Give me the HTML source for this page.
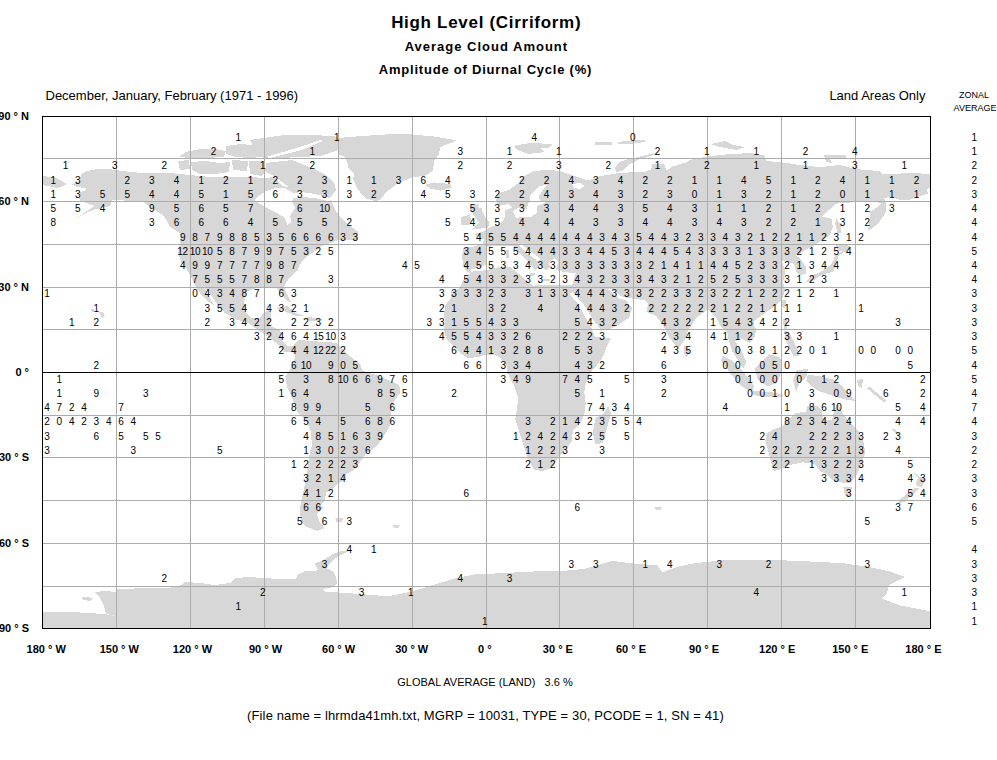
<!DOCTYPE html>
<html><head><meta charset="utf-8"><style>
html,body{margin:0;padding:0;background:#fff;width:997px;height:760px;overflow:hidden}
svg{position:absolute;left:0;top:0}
text{font-family:"Liberation Sans",sans-serif;fill:#000}
.n{font-size:10px;text-anchor:middle;letter-spacing:-0.4px}
.b{font-weight:bold}
</style></head><body>
<svg width="997" height="760" viewBox="0 0 997 760">

<g fill="#d7d7d7" stroke="none" shape-rendering="crispEdges">
<polygon points="393.0,525.5 400.0,525.0 399.0,528.0 394.0,528.0"/>
<polygon points="655.0,507.5 662.0,507.0 661.0,510.0 656.0,510.0"/>
<polygon points="90.0,310.0 93.5,308.5 95.0,311.0 92.0,312.0"/>
<polygon points="99.0,312.0 103.0,312.5 105.0,316.0 102.0,318.5 100.5,315.0"/>
<polygon points="72.0,184.5 75.0,183.0 80.0,181.0 81.0,174.0 87.0,171.0 97.0,169.0 112.0,169.5 122.0,171.0 142.0,173.0 152.0,173.0 170.0,173.0 190.0,175.0 210.0,177.0 230.0,177.0 250.0,177.0 264.0,178.0 275.0,177.0 282.0,186.0 292.0,188.0 300.0,186.0 310.0,189.0 325.0,193.0 330.0,199.0 334.0,207.0 339.0,216.0 347.0,223.8 357.6,231.3 358.0,240.0 340.5,240.4 338.2,240.0 330.2,243.0 322.2,246.0 316.2,250.1 310.2,254.1 303.1,260.1 299.1,266.1 298.1,270.1 293.1,274.1 286.1,282.2 284.1,287.2 285.1,290.2 289.1,298.2 291.1,302.2 286.1,300.2 280.1,291.2 275.0,287.2 264.0,287.7 256.2,288.0 246.0,292.0 244.0,302.1 246.0,312.1 252.0,318.1 260.1,318.1 263.1,313.1 269.1,310.1 271.1,313.1 270.1,326.1 280.1,330.1 282.1,340.2 287.1,346.2 296.2,346.2 300.2,342.2 300.0,350.0 296.2,356.2 292.2,352.2 284.1,352.2 278.1,344.2 270.1,338.2 258.1,330.1 247.9,322.8 236.3,319.5 224.7,312.9 216.4,302.9 208.1,291.3 203.2,286.3 210.0,298.0 214.8,306.2 206.5,300.0 198.2,291.0 193.2,281.4 188.2,271.4 181.6,263.1 178.3,253.2 180.0,243.2 180.0,233.3 170.0,226.6 164.0,216.0 152.3,208.2 142.0,201.1 112.2,200.1 110.2,206.1 92.2,210.2 75.1,218.2 68.1,222.2 82.1,214.2 94.2,206.1 87.1,203.1 80.1,201.1 79.1,198.1 80.1,192.1 86.1,190.1 86.1,188.1 77.1,187.1"/>
<polygon points="178.0,161.0 189.0,160.0 190.0,169.0 180.0,170.0"/>
<polygon points="191.0,162.0 205.0,161.0 220.0,163.0 230.0,162.0 229.0,172.0 215.0,174.0 200.0,174.0 192.0,170.0"/>
<polygon points="232.0,160.0 248.0,161.0 247.0,171.0 233.0,170.0"/>
<polygon points="249.0,161.0 264.0,161.0 266.0,170.0 262.0,176.0 250.0,174.0"/>
<polygon points="179.0,157.0 186.0,152.0 200.0,149.0 215.0,149.0 226.0,151.0 224.0,157.0 205.0,158.0 190.0,158.0"/>
<polygon points="226.0,146.0 240.0,144.0 252.0,145.0 260.0,141.0 262.0,157.0 250.0,158.0 235.0,157.0 226.0,154.0"/>
<polygon points="43.0,176.1 54.0,177.1 62.1,181.1 67.1,184.1 58.0,188.1 48.0,186.1 43.0,185.1"/>
<polygon points="338.0,138.0 365.1,135.8 387.7,134.3 410.3,134.3 434.3,136.5 456.9,140.3 440.4,147.1 438.9,154.6 434.3,160.6 432.8,171.1 425.3,175.6 410.3,177.9 398.2,183.2 386.2,192.2 380.2,199.7 375.7,201.2 365.1,198.2 357.6,189.2 353.1,178.7 354.6,174.1 348.6,168.1 345.6,157.6 341.1,154.6 338.0,156.1"/>
<polygon points="250.0,140.0 264.0,138.0 284.0,135.0 310.0,135.0 334.5,136.0 338.0,138.0 338.0,150.0 320.0,156.0 300.0,157.0 280.0,158.0 264.0,158.0 255.0,150.0"/>
<polygon points="266.0,163.0 292.0,160.0 312.0,168.0 324.0,174.0 334.0,182.0 336.0,190.0 330.0,198.0 318.0,197.0 304.0,196.0 296.0,192.0 290.0,188.0 282.0,182.0 274.0,176.0 266.0,172.0"/>
<polygon points="425.3,184.7 434.3,182.4 449.4,183.9 452.4,187.7 440.4,190.7 429.8,188.4"/>
<polygon points="477.5,203.5 479.2,205.8 477.5,207.0 481.5,208.2 482.1,211.6 485.6,218.6 489.6,222.6 487.9,228.4 482.1,228.4 472.3,229.6 475.2,226.7 479.2,222.6 476.3,219.2 472.8,213.4 469.4,207.0 474.0,204.0"/>
<polygon points="461.3,216.8 469.4,215.1 471.7,220.3 469.4,225.0 460.7,225.0"/>
<polygon points="513.0,146.0 530.0,143.0 553.0,144.0 548.0,148.0 540.0,147.5 545.0,152.0 528.0,154.0 518.0,150.0"/>
<polygon points="595.0,142.0 612.0,142.0 612.0,144.5 595.0,144.7"/>
<polygon points="617.6,142.0 632.0,140.5 645.7,139.8 645.0,142.0 630.0,144.0 617.6,144.0"/>
<polygon points="614.8,167.9 619.0,162.3 627.4,159.5 634.4,158.1 644.3,155.3 658.3,152.5 655.5,154.6 638.7,159.5 630.2,163.7 623.2,170.7 616.2,172.1"/>
<polygon points="710.0,144.0 725.0,141.0 733.0,145.0 745.0,147.0 737.0,150.0 720.0,147.0"/>
<polygon points="824.0,155.0 846.0,155.5 846.0,159.0 830.0,159.0 832.0,163.0 826.0,162.0"/>
<polygon points="465.7,270.7 463.3,265.9 462.1,257.5 463.3,247.9 471.7,246.7 482.6,244.3 483.8,239.4 474.0,234.2 482.1,231.9 486.7,229.6 490.2,227.3 500.0,223.8 504.8,218.0 504.8,210.0 499.0,207.0 496.0,201.0 497.8,193.6 509.0,190.0 518.2,183.0 524.5,176.0 534.3,171.1 548.3,169.7 559.6,171.1 572.2,175.3 588.1,180.6 599.3,176.3 606.3,175.0 616.2,173.5 633.0,172.1 644.3,172.1 651.3,169.3 652.7,163.7 663.9,163.7 666.7,170.7 672.4,166.5 686.4,162.3 690.0,160.1 698.0,158.1 710.0,156.1 730.1,154.1 750.2,153.1 764.2,155.1 766.2,161.1 780.3,162.1 800.3,165.1 820.4,167.1 840.0,165.0 856.0,169.1 880.1,171.1 882.1,174.1 900.2,173.6 906.2,172.6 931.0,174.1 931.0,188.0 926.6,188.8 928.2,193.7 920.2,196.1 908.2,200.1 900.1,200.1 894.5,197.7 888.1,196.9 884.1,198.5 886.5,202.5 885.7,212.1 880.1,221.0 873.6,227.4 868.0,230.6 869.6,221.0 870.4,211.3 876.0,208.1 880.9,203.3 872.0,200.5 860.0,201.0 850.0,202.5 836.4,203.6 826.9,211.8 822.1,216.6 831.6,219.0 832.8,227.3 829.2,235.5 822.1,240.3 815.0,245.0 805.5,249.8 796.1,255.7 800.8,259.2 805.5,266.4 805.5,273.5 799.6,275.8 796.1,271.1 793.7,264.0 785.4,260.4 781.8,261.6 785.4,271.1 783.0,282.9 785.4,290.0 781.9,299.6 777.0,304.4 770.6,309.3 761.0,315.7 753.0,322.1 756.2,330.1 754.6,336.5 749.8,343.0 740.1,338.2 735.3,341.4 741.7,351.0 746.5,362.2 743.3,368.7 738.5,360.6 732.1,351.0 728.9,341.4 727.3,331.7 720.9,326.9 716.1,317.3 708.0,309.3 704.4,312.0 696.4,318.1 688.4,330.1 684.4,340.1 678.4,349.1 674.3,344.1 668.3,336.1 662.3,324.1 656.3,316.0 646.3,312.0 648.3,304.0 644.9,300.1 632.0,298.5 622.4,296.9 611.2,288.8 606.4,288.8 609.6,290.4 619.2,298.5 625.6,300.1 632.0,308.1 628.8,317.7 619.2,324.2 608.0,329.8 601.5,330.6 591.9,317.7 583.9,304.9 572.7,292.0 569.4,293.7 577.5,303.3 585.5,317.7 591.9,329.0 595.1,337.0 611.2,338.6 608.0,343.4 603.2,356.3 595.1,367.5 592.7,370.0 589.9,374.2 585.7,384.0 584.3,392.5 585.7,403.7 584.3,414.9 580.1,423.4 573.0,430.4 571.6,441.6 566.0,448.7 559.0,457.1 550.6,468.3 542.1,471.1 533.7,469.7 528.1,458.5 523.9,445.8 519.7,433.2 515.4,419.2 516.9,409.3 518.3,398.1 514.0,385.4 507.0,372.8 507.1,365.9 498.2,355.8 486.9,354.5 478.0,357.0 467.9,358.3 460.4,353.2 452.8,345.7 446.5,339.3 443.9,330.5 445.2,321.7 443.9,315.4 445.2,305.3 450.3,298.9 451.5,291.4 459.1,288.8 463.0,281.0 470.5,273.1"/>
<polygon points="608.1,406.5 611.0,413.5 606.7,429.0 602.5,443.0 595.5,444.4 592.7,433.2 595.5,417.8 603.9,413.5"/>
<polygon points="684.0,346.0 688.0,347.0 690.0,354.0 686.0,357.0 683.5,352.0"/>
<polygon points="836.4,217.8 841.1,226.1 841.1,233.2 837.5,233.2 835.2,223.7"/>
<polygon points="836.0,245.0 846.0,244.0 851.0,247.0 846.0,252.0 838.0,251.0"/>
<polygon points="841.1,252.1 835.2,255.7 831.6,264.0 822.1,271.1 811.5,275.8 805.5,281.8 810.3,282.9 819.8,275.8 834.0,271.1 836.4,262.8 838.7,255.7 844.0,252.0"/>
<polygon points="782.0,300.5 786.6,300.0 785.0,308.4 782.0,307.0"/>
<polygon points="748.0,323.0 754.0,322.0 754.0,329.0 748.0,329.0"/>
<polygon points="722.5,355.8 732.1,360.6 744.9,373.5 754.6,386.3 751.4,392.7 741.7,386.3 730.5,373.5 720.9,360.6"/>
<polygon points="753.0,391.0 770.0,392.0 783.5,394.5 783.0,397.5 765.0,397.0 753.0,395.0"/>
<polygon points="769.0,354.2 780.3,357.4 781.9,370.3 777.0,383.1 767.4,386.3 757.8,379.9 754.6,368.7 761.0,362.2"/>
<polygon points="783.0,319.0 787.0,318.5 787.5,330.0 784.0,330.0"/>
<polygon points="784.0,331.0 789.0,332.0 797.0,348.0 799.0,356.0 794.0,356.5 786.0,341.0"/>
<polygon points="797.0,370.0 808.0,369.0 806.0,378.0 800.0,382.0 796.0,392.0 793.0,380.0"/>
<polygon points="807.8,374.7 820.2,376.3 832.5,379.3 841.8,385.5 849.5,394.8 855.7,401.0 844.9,399.4 834.1,396.3 824.8,393.2 817.1,390.2 810.9,385.5 806.3,380.9"/>
<polygon points="857.0,380.0 863.0,379.0 862.0,388.0 858.0,386.0"/>
<polygon points="866.5,388.0 870.0,387.0 887.0,401.0 884.0,402.5"/>
<polygon points="891.0,429.0 894.0,428.8 900.5,434.0 898.0,435.5"/>
<polygon points="298.1,340.0 336.0,342.8 347.2,354.0 359.9,363.9 362.7,370.9 376.7,375.1 389.4,380.7 399.2,384.9 400.6,392.0 393.6,401.8 390.8,413.0 389.4,427.1 382.4,438.3 376.7,446.0 365.5,454.5 353.7,470.3 345.8,474.2 345.8,479.5 337.9,483.4 332.6,488.7 326.1,492.6 324.7,500.5 320.8,504.5 323.4,508.4 316.8,513.7 319.5,521.6 324.7,528.2 316.8,530.8 306.3,526.8 301.1,521.6 299.7,508.4 302.4,496.6 305.0,483.4 307.6,466.3 310.3,450.5 312.1,446.0 310.7,431.3 306.5,421.5 298.1,413.0 292.5,399.0 286.9,386.3 285.4,376.5 291.1,368.1 295.3,356.9 293.9,344.2"/>
<polygon points="335.3,518.0 343.2,517.6 342.0,521.6 336.0,521.6"/>
<polygon points="276.1,308.1 287.1,306.1 296.2,313.1 304.2,316.1 296.2,316.1 284.1,311.1"/>
<polygon points="302.2,318.1 310.2,317.1 324.3,320.1 310.2,321.1"/>
<polygon points="766.7,433.4 774.0,429.1 782.6,426.2 788.4,419.0 795.7,413.2 805.8,411.7 807.2,405.9 817.4,405.9 822.0,411.0 823.0,419.0 832.0,420.5 834.5,410.0 837.6,403.0 843.4,414.6 850.7,423.3 859.4,432.0 863.7,442.1 865.2,453.7 860.8,465.3 856.5,475.4 850.7,482.6 842.0,482.6 831.9,479.8 826.1,474.0 820.3,471.1 814.5,463.8 802.9,462.4 788.4,465.3 779.7,469.6 774.0,471.1 771.1,462.4 768.2,450.8 765.3,440.7"/>
<polygon points="843.4,487.0 852.1,487.0 850.0,495.7 845.0,495.7"/>
<polygon points="912.1,470.8 919.2,476.7 926.4,479.1 921.6,487.4 915.7,485.0 918.0,477.9"/>
<polygon points="919.2,488.6 911.0,495.7 905.0,501.6 897.9,504.0 899.1,500.4 907.4,493.3 915.7,487.4"/>
<polygon points="42.0,611.5 80.0,612.5 104.0,614.0 116.0,616.0 116.0,589.0 178.0,587.3 185.0,582.0 200.0,583.0 215.0,585.0 230.0,583.0 236.0,578.0 250.0,577.0 262.0,578.0 280.0,579.0 296.3,579.0 297.0,575.0 305.0,571.0 315.0,571.0 317.7,569.7 314.5,563.3 321.0,561.0 326.5,558.0 333.0,554.0 343.0,550.5 348.0,551.5 338.0,556.5 331.0,562.0 326.5,568.1 333.0,571.3 336.2,577.7 337.0,584.2 331.4,587.4 323.0,589.0 325.0,592.0 338.0,592.5 360.3,594.0 387.8,596.3 410.6,591.8 433.5,584.9 456.4,578.0 479.3,573.5 495.4,573.5 538.9,571.2 559.5,571.2 584.6,568.9 612.1,560.9 630.4,563.2 657.8,565.5 662.4,572.3 678.4,566.6 694.4,563.2 728.9,559.7 765.5,559.7 797.5,560.9 843.2,563.2 866.1,566.6 888.9,571.2 905.0,576.9 888.9,584.9 886.7,594.0 882.1,598.6 900.4,605.5 930.0,611.2 930.0,628.0 42.0,628.0"/>
<polygon points="81.5,597.5 88.0,596.5 93.0,599.0 90.0,601.0 83.0,600.0"/>
<polygon points="95.0,592.0 105.0,591.0 116.0,592.0 116.0,616.0 106.0,614.0 104.0,606.0 100.0,598.0"/>
</g>
<g fill="#ffffff" stroke="none" shape-rendering="crispEdges">
<polygon points="266.0,157.0 300.0,147.0 320.0,140.0 323.0,141.0 302.0,150.0 270.0,158.0"/>
<polygon points="254.0,200.0 260.0,195.0 266.0,191.0 275.0,188.0 285.0,188.0 293.0,193.0 302.0,192.0 315.0,194.0 330.0,198.0 336.0,199.0 328.0,201.0 315.0,198.0 300.0,197.0 293.0,198.0 292.1,202.1 295.2,208.1 290.1,215.1 291.1,222.1 287.1,225.2 285.1,218.1 277.1,213.1 265.0,207.1"/>
<polygon points="471.0,269.5 481.0,266.8 486.8,264.0 487.0,256.0 487.0,247.0 500.0,245.5 512.0,245.5 517.0,250.0 523.0,257.0 530.0,264.0 535.0,270.0 540.0,266.0 546.0,270.0 552.0,266.0 556.0,270.0 562.7,271.7 575.6,273.3 572.4,284.6 556.3,284.6 540.0,284.5 533.4,285.9 527.9,281.8 521.0,275.6 514.2,270.1 510.8,267.4 500.5,266.7 486.8,270.1 480.0,270.8 471.0,271.7"/>
<polygon points="518.0,245.0 522.0,244.5 530.0,251.0 541.0,259.0 538.0,261.0 528.0,254.0"/>
<polygon points="549.0,262.0 555.0,258.0 558.0,262.0 556.0,270.0 550.0,268.0"/>
<polygon points="529.4,195.7 534.3,191.4 540.0,185.8 547.7,185.1 542.8,190.0 538.5,197.1 540.0,200.6 554.7,200.6 544.2,202.7 537.1,206.2 537.1,212.5 531.5,216.7 523.1,216.7 516.1,218.1 512.6,211.1 517.5,208.3 526.6,209.0 528.7,202.7 530.1,199.2"/>
<polygon points="499.2,205.5 509.0,204.1 512.6,207.6 506.9,209.7 502.0,211.1 497.8,209.7"/>
<polygon points="572.0,184.0 580.0,183.0 585.0,186.0 580.0,189.0 574.0,188.0"/>
</g>
<g fill="#d7d7d7" stroke="none" shape-rendering="crispEdges">
<polygon points="506.0,250.0 509.0,250.0 509.0,258.0 506.0,258.0"/>
<polygon points="530.0,273.0 536.0,272.5 534.0,276.0 530.0,276.0"/>
<polygon points="543.0,279.0 550.0,279.0 550.0,280.5 543.0,280.5"/>
</g>
<g stroke="#acacac" stroke-width="1" shape-rendering="crispEdges">
<line x1="116.5" y1="116" x2="116.5" y2="628"/>
<line x1="190.5" y1="116" x2="190.5" y2="628"/>
<line x1="264.5" y1="116" x2="264.5" y2="628"/>
<line x1="338.5" y1="116" x2="338.5" y2="628"/>
<line x1="412.5" y1="116" x2="412.5" y2="628"/>
<line x1="486.5" y1="116" x2="486.5" y2="628"/>
<line x1="559.5" y1="116" x2="559.5" y2="628"/>
<line x1="633.5" y1="116" x2="633.5" y2="628"/>
<line x1="707.5" y1="116" x2="707.5" y2="628"/>
<line x1="781.5" y1="116" x2="781.5" y2="628"/>
<line x1="855.5" y1="116" x2="855.5" y2="628"/>
<line x1="42" y1="158.5" x2="930" y2="158.5"/>
<line x1="42" y1="201.5" x2="930" y2="201.5"/>
<line x1="42" y1="244.5" x2="930" y2="244.5"/>
<line x1="42" y1="287.5" x2="930" y2="287.5"/>
<line x1="42" y1="329.5" x2="930" y2="329.5"/>
<line x1="42" y1="415.5" x2="930" y2="415.5"/>
<line x1="42" y1="457.5" x2="930" y2="457.5"/>
<line x1="42" y1="500.5" x2="930" y2="500.5"/>
<line x1="42" y1="543.5" x2="930" y2="543.5"/>
<line x1="42" y1="586.5" x2="930" y2="586.5"/>
</g>
<line x1="42" y1="372.5" x2="930" y2="372.5" stroke="#000" stroke-width="1" shape-rendering="crispEdges"/>
<rect x="42.5" y="116.5" width="888" height="512" fill="none" stroke="#000" stroke-width="1" shape-rendering="crispEdges"/>
<g class="n">
<text x="238.0" y="140.9">1</text>
<text x="336.7" y="140.9">1</text>
<text x="534.0" y="140.9">4</text>
<text x="632.7" y="140.9">0</text>
<text x="213.4" y="155.2">2</text>
<text x="312.0" y="155.2">1</text>
<text x="460.0" y="155.2">3</text>
<text x="509.4" y="155.2">1</text>
<text x="558.7" y="155.2">1</text>
<text x="657.4" y="155.2">2</text>
<text x="706.7" y="155.2">1</text>
<text x="756.0" y="155.2">1</text>
<text x="805.4" y="155.2">2</text>
<text x="854.7" y="155.2">4</text>
<text x="65.4" y="169.4">1</text>
<text x="114.7" y="169.4">3</text>
<text x="164.0" y="169.4">2</text>
<text x="262.7" y="169.4">1</text>
<text x="312.0" y="169.4">2</text>
<text x="460.0" y="169.4">2</text>
<text x="509.4" y="169.4">2</text>
<text x="558.7" y="169.4">3</text>
<text x="608.0" y="169.4">2</text>
<text x="657.4" y="169.4">1</text>
<text x="706.7" y="169.4">2</text>
<text x="756.0" y="169.4">1</text>
<text x="805.4" y="169.4">1</text>
<text x="854.7" y="169.4">3</text>
<text x="904.0" y="169.4">1</text>
<text x="53.0" y="183.6">1</text>
<text x="77.7" y="183.6">3</text>
<text x="127.0" y="183.6">2</text>
<text x="151.7" y="183.6">3</text>
<text x="176.4" y="183.6">4</text>
<text x="201.0" y="183.6">1</text>
<text x="225.7" y="183.6">2</text>
<text x="250.4" y="183.6">1</text>
<text x="275.0" y="183.6">2</text>
<text x="299.7" y="183.6">2</text>
<text x="324.4" y="183.6">3</text>
<text x="349.0" y="183.6">1</text>
<text x="373.7" y="183.6">1</text>
<text x="398.4" y="183.6">3</text>
<text x="423.0" y="183.6">6</text>
<text x="447.7" y="183.6">4</text>
<text x="521.7" y="183.6">2</text>
<text x="546.4" y="183.6">2</text>
<text x="571.0" y="183.6">4</text>
<text x="595.7" y="183.6">3</text>
<text x="620.4" y="183.6">4</text>
<text x="645.0" y="183.6">2</text>
<text x="669.7" y="183.6">2</text>
<text x="694.4" y="183.6">1</text>
<text x="719.0" y="183.6">1</text>
<text x="743.7" y="183.6">4</text>
<text x="768.4" y="183.6">5</text>
<text x="793.0" y="183.6">1</text>
<text x="817.7" y="183.6">2</text>
<text x="842.4" y="183.6">4</text>
<text x="867.0" y="183.6">1</text>
<text x="891.7" y="183.6">1</text>
<text x="916.4" y="183.6">2</text>
<text x="53.0" y="197.8">1</text>
<text x="77.7" y="197.8">3</text>
<text x="102.4" y="197.8">5</text>
<text x="127.0" y="197.8">5</text>
<text x="151.7" y="197.8">4</text>
<text x="176.4" y="197.8">4</text>
<text x="201.0" y="197.8">5</text>
<text x="225.7" y="197.8">1</text>
<text x="250.4" y="197.8">5</text>
<text x="275.0" y="197.8">6</text>
<text x="299.7" y="197.8">3</text>
<text x="324.4" y="197.8">3</text>
<text x="349.0" y="197.8">3</text>
<text x="373.7" y="197.8">2</text>
<text x="423.0" y="197.8">4</text>
<text x="447.7" y="197.8">5</text>
<text x="472.4" y="197.8">3</text>
<text x="497.0" y="197.8">2</text>
<text x="521.7" y="197.8">2</text>
<text x="546.4" y="197.8">4</text>
<text x="571.0" y="197.8">3</text>
<text x="595.7" y="197.8">4</text>
<text x="620.4" y="197.8">3</text>
<text x="645.0" y="197.8">2</text>
<text x="669.7" y="197.8">3</text>
<text x="694.4" y="197.8">0</text>
<text x="719.0" y="197.8">1</text>
<text x="743.7" y="197.8">3</text>
<text x="768.4" y="197.8">2</text>
<text x="793.0" y="197.8">1</text>
<text x="817.7" y="197.8">2</text>
<text x="842.4" y="197.8">0</text>
<text x="867.0" y="197.8">1</text>
<text x="891.7" y="197.8">1</text>
<text x="916.4" y="197.8">1</text>
<text x="53.0" y="212.0">5</text>
<text x="77.7" y="212.0">5</text>
<text x="102.4" y="212.0">4</text>
<text x="151.7" y="212.0">9</text>
<text x="176.4" y="212.0">5</text>
<text x="201.0" y="212.0">6</text>
<text x="225.7" y="212.0">5</text>
<text x="250.4" y="212.0">7</text>
<text x="299.7" y="212.0">6</text>
<text x="324.4" y="212.0">10</text>
<text x="472.4" y="212.0">5</text>
<text x="497.0" y="212.0">3</text>
<text x="521.7" y="212.0">3</text>
<text x="546.4" y="212.0">3</text>
<text x="571.0" y="212.0">4</text>
<text x="595.7" y="212.0">4</text>
<text x="620.4" y="212.0">3</text>
<text x="645.0" y="212.0">5</text>
<text x="669.7" y="212.0">4</text>
<text x="694.4" y="212.0">3</text>
<text x="719.0" y="212.0">1</text>
<text x="743.7" y="212.0">1</text>
<text x="768.4" y="212.0">2</text>
<text x="793.0" y="212.0">1</text>
<text x="817.7" y="212.0">2</text>
<text x="842.4" y="212.0">1</text>
<text x="867.0" y="212.0">2</text>
<text x="891.7" y="212.0">3</text>
<text x="53.0" y="226.3">8</text>
<text x="151.7" y="226.3">3</text>
<text x="176.4" y="226.3">6</text>
<text x="201.0" y="226.3">6</text>
<text x="225.7" y="226.3">6</text>
<text x="250.4" y="226.3">4</text>
<text x="275.0" y="226.3">5</text>
<text x="299.7" y="226.3">5</text>
<text x="324.4" y="226.3">5</text>
<text x="349.0" y="226.3">2</text>
<text x="447.7" y="226.3">5</text>
<text x="472.4" y="226.3">4</text>
<text x="497.0" y="226.3">5</text>
<text x="521.7" y="226.3">4</text>
<text x="546.4" y="226.3">4</text>
<text x="571.0" y="226.3">4</text>
<text x="595.7" y="226.3">3</text>
<text x="620.4" y="226.3">3</text>
<text x="645.0" y="226.3">4</text>
<text x="669.7" y="226.3">4</text>
<text x="694.4" y="226.3">3</text>
<text x="719.0" y="226.3">4</text>
<text x="743.7" y="226.3">3</text>
<text x="768.4" y="226.3">2</text>
<text x="793.0" y="226.3">2</text>
<text x="817.7" y="226.3">1</text>
<text x="842.4" y="226.3">3</text>
<text x="867.0" y="226.3">2</text>
<text x="182.5" y="240.5">9</text>
<text x="194.9" y="240.5">8</text>
<text x="207.2" y="240.5">7</text>
<text x="219.5" y="240.5">9</text>
<text x="231.9" y="240.5">8</text>
<text x="244.2" y="240.5">8</text>
<text x="256.5" y="240.5">5</text>
<text x="268.9" y="240.5">3</text>
<text x="281.2" y="240.5">5</text>
<text x="293.5" y="240.5">6</text>
<text x="305.9" y="240.5">6</text>
<text x="318.2" y="240.5">6</text>
<text x="330.5" y="240.5">6</text>
<text x="342.9" y="240.5">3</text>
<text x="355.2" y="240.5">3</text>
<text x="466.2" y="240.5">5</text>
<text x="478.5" y="240.5">4</text>
<text x="490.9" y="240.5">5</text>
<text x="503.2" y="240.5">5</text>
<text x="515.5" y="240.5">4</text>
<text x="527.9" y="240.5">4</text>
<text x="540.2" y="240.5">4</text>
<text x="552.5" y="240.5">4</text>
<text x="564.9" y="240.5">4</text>
<text x="577.2" y="240.5">4</text>
<text x="589.5" y="240.5">4</text>
<text x="601.9" y="240.5">3</text>
<text x="614.2" y="240.5">4</text>
<text x="626.5" y="240.5">3</text>
<text x="638.9" y="240.5">5</text>
<text x="651.2" y="240.5">4</text>
<text x="663.5" y="240.5">4</text>
<text x="675.9" y="240.5">3</text>
<text x="688.2" y="240.5">2</text>
<text x="700.5" y="240.5">3</text>
<text x="712.9" y="240.5">3</text>
<text x="725.2" y="240.5">4</text>
<text x="737.5" y="240.5">3</text>
<text x="749.9" y="240.5">2</text>
<text x="762.2" y="240.5">1</text>
<text x="774.5" y="240.5">2</text>
<text x="786.9" y="240.5">2</text>
<text x="799.2" y="240.5">1</text>
<text x="811.5" y="240.5">1</text>
<text x="823.9" y="240.5">2</text>
<text x="836.2" y="240.5">3</text>
<text x="848.5" y="240.5">1</text>
<text x="860.9" y="240.5">2</text>
<text x="182.5" y="254.7">12</text>
<text x="194.9" y="254.7">10</text>
<text x="207.2" y="254.7">10</text>
<text x="219.5" y="254.7">5</text>
<text x="231.9" y="254.7">8</text>
<text x="244.2" y="254.7">7</text>
<text x="256.5" y="254.7">9</text>
<text x="268.9" y="254.7">9</text>
<text x="281.2" y="254.7">7</text>
<text x="293.5" y="254.7">5</text>
<text x="305.9" y="254.7">3</text>
<text x="318.2" y="254.7">2</text>
<text x="330.5" y="254.7">5</text>
<text x="466.2" y="254.7">3</text>
<text x="478.5" y="254.7">4</text>
<text x="490.9" y="254.7">5</text>
<text x="503.2" y="254.7">5</text>
<text x="515.5" y="254.7">5</text>
<text x="527.9" y="254.7">4</text>
<text x="540.2" y="254.7">4</text>
<text x="552.5" y="254.7">4</text>
<text x="564.9" y="254.7">3</text>
<text x="577.2" y="254.7">3</text>
<text x="589.5" y="254.7">4</text>
<text x="601.9" y="254.7">4</text>
<text x="614.2" y="254.7">5</text>
<text x="626.5" y="254.7">3</text>
<text x="638.9" y="254.7">4</text>
<text x="651.2" y="254.7">4</text>
<text x="663.5" y="254.7">4</text>
<text x="675.9" y="254.7">5</text>
<text x="688.2" y="254.7">4</text>
<text x="700.5" y="254.7">3</text>
<text x="712.9" y="254.7">3</text>
<text x="725.2" y="254.7">3</text>
<text x="737.5" y="254.7">3</text>
<text x="749.9" y="254.7">1</text>
<text x="762.2" y="254.7">3</text>
<text x="774.5" y="254.7">3</text>
<text x="786.9" y="254.7">3</text>
<text x="799.2" y="254.7">2</text>
<text x="811.5" y="254.7">1</text>
<text x="823.9" y="254.7">2</text>
<text x="836.2" y="254.7">5</text>
<text x="848.5" y="254.7">4</text>
<text x="182.5" y="268.9">4</text>
<text x="194.9" y="268.9">9</text>
<text x="207.2" y="268.9">9</text>
<text x="219.5" y="268.9">7</text>
<text x="231.9" y="268.9">7</text>
<text x="244.2" y="268.9">7</text>
<text x="256.5" y="268.9">7</text>
<text x="268.9" y="268.9">9</text>
<text x="281.2" y="268.9">8</text>
<text x="293.5" y="268.9">7</text>
<text x="404.5" y="268.9">4</text>
<text x="416.9" y="268.9">5</text>
<text x="466.2" y="268.9">4</text>
<text x="478.5" y="268.9">5</text>
<text x="490.9" y="268.9">5</text>
<text x="503.2" y="268.9">3</text>
<text x="515.5" y="268.9">3</text>
<text x="527.9" y="268.9">4</text>
<text x="540.2" y="268.9">3</text>
<text x="552.5" y="268.9">3</text>
<text x="564.9" y="268.9">3</text>
<text x="577.2" y="268.9">3</text>
<text x="589.5" y="268.9">3</text>
<text x="601.9" y="268.9">3</text>
<text x="614.2" y="268.9">3</text>
<text x="626.5" y="268.9">3</text>
<text x="638.9" y="268.9">3</text>
<text x="651.2" y="268.9">2</text>
<text x="663.5" y="268.9">1</text>
<text x="675.9" y="268.9">4</text>
<text x="688.2" y="268.9">1</text>
<text x="700.5" y="268.9">1</text>
<text x="712.9" y="268.9">4</text>
<text x="725.2" y="268.9">4</text>
<text x="737.5" y="268.9">5</text>
<text x="749.9" y="268.9">2</text>
<text x="762.2" y="268.9">3</text>
<text x="774.5" y="268.9">3</text>
<text x="786.9" y="268.9">2</text>
<text x="799.2" y="268.9">1</text>
<text x="811.5" y="268.9">3</text>
<text x="823.9" y="268.9">4</text>
<text x="836.2" y="268.9">4</text>
<text x="194.9" y="283.2">7</text>
<text x="207.2" y="283.2">5</text>
<text x="219.5" y="283.2">5</text>
<text x="231.9" y="283.2">5</text>
<text x="244.2" y="283.2">7</text>
<text x="256.5" y="283.2">8</text>
<text x="268.9" y="283.2">8</text>
<text x="281.2" y="283.2">7</text>
<text x="330.5" y="283.2">3</text>
<text x="441.5" y="283.2">4</text>
<text x="466.2" y="283.2">5</text>
<text x="478.5" y="283.2">4</text>
<text x="490.9" y="283.2">3</text>
<text x="503.2" y="283.2">3</text>
<text x="515.5" y="283.2">2</text>
<text x="527.9" y="283.2">3</text>
<text x="540.2" y="283.2">3</text>
<text x="552.5" y="283.2">2</text>
<text x="564.9" y="283.2">3</text>
<text x="577.2" y="283.2">4</text>
<text x="589.5" y="283.2">3</text>
<text x="601.9" y="283.2">2</text>
<text x="614.2" y="283.2">3</text>
<text x="626.5" y="283.2">3</text>
<text x="638.9" y="283.2">3</text>
<text x="651.2" y="283.2">4</text>
<text x="663.5" y="283.2">3</text>
<text x="675.9" y="283.2">2</text>
<text x="688.2" y="283.2">1</text>
<text x="700.5" y="283.2">2</text>
<text x="712.9" y="283.2">5</text>
<text x="725.2" y="283.2">2</text>
<text x="737.5" y="283.2">5</text>
<text x="749.9" y="283.2">3</text>
<text x="762.2" y="283.2">3</text>
<text x="774.5" y="283.2">3</text>
<text x="786.9" y="283.2">3</text>
<text x="799.2" y="283.2">1</text>
<text x="811.5" y="283.2">2</text>
<text x="823.9" y="283.2">3</text>
<text x="46.9" y="297.4">1</text>
<text x="194.9" y="297.4">0</text>
<text x="207.2" y="297.4">4</text>
<text x="219.5" y="297.4">3</text>
<text x="231.9" y="297.4">4</text>
<text x="244.2" y="297.4">8</text>
<text x="256.5" y="297.4">7</text>
<text x="281.2" y="297.4">6</text>
<text x="293.5" y="297.4">3</text>
<text x="441.5" y="297.4">3</text>
<text x="453.9" y="297.4">3</text>
<text x="466.2" y="297.4">3</text>
<text x="478.5" y="297.4">3</text>
<text x="490.9" y="297.4">2</text>
<text x="503.2" y="297.4">3</text>
<text x="527.9" y="297.4">3</text>
<text x="540.2" y="297.4">1</text>
<text x="552.5" y="297.4">3</text>
<text x="564.9" y="297.4">3</text>
<text x="577.2" y="297.4">4</text>
<text x="589.5" y="297.4">4</text>
<text x="601.9" y="297.4">4</text>
<text x="614.2" y="297.4">3</text>
<text x="626.5" y="297.4">3</text>
<text x="638.9" y="297.4">3</text>
<text x="651.2" y="297.4">2</text>
<text x="663.5" y="297.4">2</text>
<text x="675.9" y="297.4">3</text>
<text x="688.2" y="297.4">3</text>
<text x="700.5" y="297.4">2</text>
<text x="712.9" y="297.4">3</text>
<text x="725.2" y="297.4">2</text>
<text x="737.5" y="297.4">2</text>
<text x="749.9" y="297.4">1</text>
<text x="762.2" y="297.4">2</text>
<text x="774.5" y="297.4">2</text>
<text x="786.9" y="297.4">2</text>
<text x="799.2" y="297.4">1</text>
<text x="811.5" y="297.4">2</text>
<text x="836.2" y="297.4">1</text>
<text x="96.2" y="311.6">1</text>
<text x="207.2" y="311.6">3</text>
<text x="219.5" y="311.6">5</text>
<text x="231.9" y="311.6">5</text>
<text x="244.2" y="311.6">4</text>
<text x="268.9" y="311.6">4</text>
<text x="281.2" y="311.6">3</text>
<text x="293.5" y="311.6">2</text>
<text x="305.9" y="311.6">1</text>
<text x="441.5" y="311.6">2</text>
<text x="453.9" y="311.6">1</text>
<text x="490.9" y="311.6">3</text>
<text x="503.2" y="311.6">2</text>
<text x="540.2" y="311.6">4</text>
<text x="577.2" y="311.6">4</text>
<text x="589.5" y="311.6">4</text>
<text x="601.9" y="311.6">4</text>
<text x="614.2" y="311.6">3</text>
<text x="626.5" y="311.6">2</text>
<text x="651.2" y="311.6">2</text>
<text x="663.5" y="311.6">2</text>
<text x="675.9" y="311.6">2</text>
<text x="688.2" y="311.6">2</text>
<text x="700.5" y="311.6">2</text>
<text x="712.9" y="311.6">2</text>
<text x="725.2" y="311.6">1</text>
<text x="737.5" y="311.6">2</text>
<text x="749.9" y="311.6">2</text>
<text x="762.2" y="311.6">1</text>
<text x="774.5" y="311.6">1</text>
<text x="786.9" y="311.6">1</text>
<text x="799.2" y="311.6">1</text>
<text x="860.9" y="311.6">1</text>
<text x="71.5" y="325.8">1</text>
<text x="96.2" y="325.8">2</text>
<text x="207.2" y="325.8">2</text>
<text x="231.9" y="325.8">3</text>
<text x="244.2" y="325.8">4</text>
<text x="256.5" y="325.8">2</text>
<text x="268.9" y="325.8">2</text>
<text x="293.5" y="325.8">2</text>
<text x="305.9" y="325.8">2</text>
<text x="318.2" y="325.8">3</text>
<text x="330.5" y="325.8">2</text>
<text x="429.2" y="325.8">3</text>
<text x="441.5" y="325.8">3</text>
<text x="453.9" y="325.8">1</text>
<text x="466.2" y="325.8">5</text>
<text x="478.5" y="325.8">5</text>
<text x="490.9" y="325.8">4</text>
<text x="503.2" y="325.8">3</text>
<text x="515.5" y="325.8">3</text>
<text x="577.2" y="325.8">5</text>
<text x="589.5" y="325.8">4</text>
<text x="601.9" y="325.8">3</text>
<text x="614.2" y="325.8">2</text>
<text x="663.5" y="325.8">4</text>
<text x="675.9" y="325.8">3</text>
<text x="688.2" y="325.8">2</text>
<text x="712.9" y="325.8">1</text>
<text x="725.2" y="325.8">5</text>
<text x="737.5" y="325.8">4</text>
<text x="749.9" y="325.8">3</text>
<text x="762.2" y="325.8">4</text>
<text x="774.5" y="325.8">2</text>
<text x="786.9" y="325.8">2</text>
<text x="897.9" y="325.8">3</text>
<text x="256.5" y="340.0">3</text>
<text x="268.9" y="340.0">2</text>
<text x="281.2" y="340.0">4</text>
<text x="293.5" y="340.0">6</text>
<text x="305.9" y="340.0">4</text>
<text x="318.2" y="340.0">15</text>
<text x="330.5" y="340.0">10</text>
<text x="342.9" y="340.0">3</text>
<text x="441.5" y="340.0">4</text>
<text x="453.9" y="340.0">5</text>
<text x="466.2" y="340.0">5</text>
<text x="478.5" y="340.0">4</text>
<text x="490.9" y="340.0">3</text>
<text x="503.2" y="340.0">3</text>
<text x="515.5" y="340.0">2</text>
<text x="527.9" y="340.0">6</text>
<text x="564.9" y="340.0">2</text>
<text x="577.2" y="340.0">2</text>
<text x="589.5" y="340.0">2</text>
<text x="601.9" y="340.0">3</text>
<text x="663.5" y="340.0">2</text>
<text x="675.9" y="340.0">3</text>
<text x="688.2" y="340.0">4</text>
<text x="712.9" y="340.0">4</text>
<text x="725.2" y="340.0">1</text>
<text x="737.5" y="340.0">1</text>
<text x="749.9" y="340.0">2</text>
<text x="786.9" y="340.0">3</text>
<text x="799.2" y="340.0">3</text>
<text x="836.2" y="340.0">1</text>
<text x="281.2" y="354.3">2</text>
<text x="293.5" y="354.3">4</text>
<text x="305.9" y="354.3">4</text>
<text x="318.2" y="354.3">12</text>
<text x="330.5" y="354.3">22</text>
<text x="342.9" y="354.3">2</text>
<text x="453.9" y="354.3">6</text>
<text x="466.2" y="354.3">4</text>
<text x="478.5" y="354.3">4</text>
<text x="490.9" y="354.3">1</text>
<text x="503.2" y="354.3">3</text>
<text x="515.5" y="354.3">2</text>
<text x="527.9" y="354.3">8</text>
<text x="540.2" y="354.3">8</text>
<text x="577.2" y="354.3">5</text>
<text x="589.5" y="354.3">3</text>
<text x="663.5" y="354.3">4</text>
<text x="675.9" y="354.3">3</text>
<text x="688.2" y="354.3">5</text>
<text x="725.2" y="354.3">0</text>
<text x="737.5" y="354.3">0</text>
<text x="749.9" y="354.3">3</text>
<text x="762.2" y="354.3">8</text>
<text x="774.5" y="354.3">1</text>
<text x="786.9" y="354.3">2</text>
<text x="799.2" y="354.3">2</text>
<text x="811.5" y="354.3">0</text>
<text x="823.9" y="354.3">1</text>
<text x="860.9" y="354.3">0</text>
<text x="873.2" y="354.3">0</text>
<text x="897.9" y="354.3">0</text>
<text x="910.2" y="354.3">0</text>
<text x="96.2" y="368.5">2</text>
<text x="293.5" y="368.5">6</text>
<text x="305.9" y="368.5">10</text>
<text x="330.5" y="368.5">9</text>
<text x="342.9" y="368.5">0</text>
<text x="355.2" y="368.5">5</text>
<text x="466.2" y="368.5">6</text>
<text x="478.5" y="368.5">6</text>
<text x="503.2" y="368.5">3</text>
<text x="515.5" y="368.5">3</text>
<text x="527.9" y="368.5">4</text>
<text x="577.2" y="368.5">4</text>
<text x="589.5" y="368.5">3</text>
<text x="601.9" y="368.5">2</text>
<text x="663.5" y="368.5">6</text>
<text x="725.2" y="368.5">0</text>
<text x="737.5" y="368.5">0</text>
<text x="762.2" y="368.5">0</text>
<text x="774.5" y="368.5">5</text>
<text x="786.9" y="368.5">0</text>
<text x="910.2" y="368.5">5</text>
<text x="59.2" y="382.7">1</text>
<text x="281.2" y="382.7">5</text>
<text x="305.9" y="382.7">3</text>
<text x="330.5" y="382.7">8</text>
<text x="342.9" y="382.7">10</text>
<text x="355.2" y="382.7">6</text>
<text x="367.5" y="382.7">6</text>
<text x="379.9" y="382.7">9</text>
<text x="392.2" y="382.7">7</text>
<text x="404.5" y="382.7">6</text>
<text x="503.2" y="382.7">3</text>
<text x="515.5" y="382.7">4</text>
<text x="527.9" y="382.7">9</text>
<text x="564.9" y="382.7">7</text>
<text x="577.2" y="382.7">4</text>
<text x="589.5" y="382.7">5</text>
<text x="626.5" y="382.7">5</text>
<text x="663.5" y="382.7">3</text>
<text x="737.5" y="382.7">0</text>
<text x="749.9" y="382.7">1</text>
<text x="762.2" y="382.7">0</text>
<text x="774.5" y="382.7">0</text>
<text x="799.2" y="382.7">0</text>
<text x="823.9" y="382.7">1</text>
<text x="836.2" y="382.7">2</text>
<text x="922.5" y="382.7">2</text>
<text x="59.2" y="396.9">1</text>
<text x="96.2" y="396.9">9</text>
<text x="145.5" y="396.9">3</text>
<text x="281.2" y="396.9">1</text>
<text x="293.5" y="396.9">6</text>
<text x="305.9" y="396.9">4</text>
<text x="379.9" y="396.9">8</text>
<text x="392.2" y="396.9">5</text>
<text x="404.5" y="396.9">5</text>
<text x="453.9" y="396.9">2</text>
<text x="577.2" y="396.9">5</text>
<text x="601.9" y="396.9">1</text>
<text x="663.5" y="396.9">2</text>
<text x="749.9" y="396.9">0</text>
<text x="762.2" y="396.9">0</text>
<text x="774.5" y="396.9">1</text>
<text x="786.9" y="396.9">0</text>
<text x="811.5" y="396.9">3</text>
<text x="836.2" y="396.9">0</text>
<text x="848.5" y="396.9">9</text>
<text x="885.5" y="396.9">6</text>
<text x="922.5" y="396.9">2</text>
<text x="46.9" y="411.2">4</text>
<text x="59.2" y="411.2">7</text>
<text x="71.5" y="411.2">2</text>
<text x="83.9" y="411.2">4</text>
<text x="120.9" y="411.2">7</text>
<text x="293.5" y="411.2">8</text>
<text x="305.9" y="411.2">9</text>
<text x="318.2" y="411.2">9</text>
<text x="367.5" y="411.2">5</text>
<text x="392.2" y="411.2">6</text>
<text x="589.5" y="411.2">7</text>
<text x="601.9" y="411.2">4</text>
<text x="614.2" y="411.2">3</text>
<text x="626.5" y="411.2">4</text>
<text x="725.2" y="411.2">4</text>
<text x="786.9" y="411.2">1</text>
<text x="811.5" y="411.2">8</text>
<text x="823.9" y="411.2">6</text>
<text x="836.2" y="411.2">10</text>
<text x="897.9" y="411.2">5</text>
<text x="922.5" y="411.2">4</text>
<text x="46.9" y="425.4">2</text>
<text x="59.2" y="425.4">0</text>
<text x="71.5" y="425.4">4</text>
<text x="83.9" y="425.4">2</text>
<text x="96.2" y="425.4">3</text>
<text x="108.5" y="425.4">4</text>
<text x="120.9" y="425.4">6</text>
<text x="133.2" y="425.4">4</text>
<text x="293.5" y="425.4">6</text>
<text x="305.9" y="425.4">5</text>
<text x="318.2" y="425.4">4</text>
<text x="342.9" y="425.4">5</text>
<text x="367.5" y="425.4">6</text>
<text x="379.9" y="425.4">8</text>
<text x="392.2" y="425.4">6</text>
<text x="527.9" y="425.4">3</text>
<text x="552.5" y="425.4">2</text>
<text x="564.9" y="425.4">1</text>
<text x="577.2" y="425.4">4</text>
<text x="589.5" y="425.4">2</text>
<text x="601.9" y="425.4">3</text>
<text x="614.2" y="425.4">5</text>
<text x="626.5" y="425.4">5</text>
<text x="638.9" y="425.4">4</text>
<text x="786.9" y="425.4">8</text>
<text x="799.2" y="425.4">2</text>
<text x="811.5" y="425.4">3</text>
<text x="823.9" y="425.4">4</text>
<text x="836.2" y="425.4">2</text>
<text x="848.5" y="425.4">4</text>
<text x="897.9" y="425.4">4</text>
<text x="922.5" y="425.4">4</text>
<text x="46.9" y="439.6">3</text>
<text x="96.2" y="439.6">6</text>
<text x="120.9" y="439.6">5</text>
<text x="145.5" y="439.6">5</text>
<text x="157.9" y="439.6">5</text>
<text x="305.9" y="439.6">4</text>
<text x="318.2" y="439.6">8</text>
<text x="330.5" y="439.6">5</text>
<text x="342.9" y="439.6">1</text>
<text x="355.2" y="439.6">6</text>
<text x="367.5" y="439.6">3</text>
<text x="379.9" y="439.6">9</text>
<text x="515.5" y="439.6">1</text>
<text x="527.9" y="439.6">2</text>
<text x="540.2" y="439.6">4</text>
<text x="552.5" y="439.6">2</text>
<text x="564.9" y="439.6">4</text>
<text x="577.2" y="439.6">3</text>
<text x="589.5" y="439.6">2</text>
<text x="601.9" y="439.6">5</text>
<text x="626.5" y="439.6">5</text>
<text x="762.2" y="439.6">2</text>
<text x="774.5" y="439.6">4</text>
<text x="811.5" y="439.6">2</text>
<text x="823.9" y="439.6">2</text>
<text x="836.2" y="439.6">2</text>
<text x="848.5" y="439.6">3</text>
<text x="860.9" y="439.6">3</text>
<text x="885.5" y="439.6">2</text>
<text x="897.9" y="439.6">3</text>
<text x="46.9" y="453.8">3</text>
<text x="133.2" y="453.8">3</text>
<text x="219.5" y="453.8">5</text>
<text x="305.9" y="453.8">1</text>
<text x="318.2" y="453.8">3</text>
<text x="330.5" y="453.8">0</text>
<text x="342.9" y="453.8">2</text>
<text x="355.2" y="453.8">3</text>
<text x="367.5" y="453.8">6</text>
<text x="527.9" y="453.8">1</text>
<text x="540.2" y="453.8">2</text>
<text x="552.5" y="453.8">2</text>
<text x="564.9" y="453.8">3</text>
<text x="601.9" y="453.8">3</text>
<text x="762.2" y="453.8">2</text>
<text x="774.5" y="453.8">2</text>
<text x="786.9" y="453.8">2</text>
<text x="799.2" y="453.8">2</text>
<text x="811.5" y="453.8">2</text>
<text x="823.9" y="453.8">2</text>
<text x="836.2" y="453.8">2</text>
<text x="848.5" y="453.8">1</text>
<text x="860.9" y="453.8">3</text>
<text x="897.9" y="453.8">4</text>
<text x="293.5" y="468.0">1</text>
<text x="305.9" y="468.0">2</text>
<text x="318.2" y="468.0">2</text>
<text x="330.5" y="468.0">2</text>
<text x="342.9" y="468.0">2</text>
<text x="355.2" y="468.0">3</text>
<text x="527.9" y="468.0">2</text>
<text x="540.2" y="468.0">1</text>
<text x="552.5" y="468.0">2</text>
<text x="774.5" y="468.0">2</text>
<text x="786.9" y="468.0">2</text>
<text x="811.5" y="468.0">1</text>
<text x="823.9" y="468.0">3</text>
<text x="836.2" y="468.0">2</text>
<text x="848.5" y="468.0">2</text>
<text x="860.9" y="468.0">3</text>
<text x="910.2" y="468.0">5</text>
<text x="305.9" y="482.3">3</text>
<text x="318.2" y="482.3">2</text>
<text x="330.5" y="482.3">1</text>
<text x="342.9" y="482.3">4</text>
<text x="823.9" y="482.3">3</text>
<text x="836.2" y="482.3">3</text>
<text x="848.5" y="482.3">3</text>
<text x="860.9" y="482.3">4</text>
<text x="910.2" y="482.3">4</text>
<text x="922.5" y="482.3">3</text>
<text x="305.9" y="496.5">4</text>
<text x="318.2" y="496.5">1</text>
<text x="330.5" y="496.5">2</text>
<text x="466.2" y="496.5">6</text>
<text x="848.5" y="496.5">3</text>
<text x="910.2" y="496.5">5</text>
<text x="922.5" y="496.5">4</text>
<text x="305.9" y="510.7">6</text>
<text x="318.2" y="510.7">6</text>
<text x="577.2" y="510.7">6</text>
<text x="897.9" y="510.7">3</text>
<text x="910.2" y="510.7">7</text>
<text x="299.7" y="524.9">5</text>
<text x="324.4" y="524.9">6</text>
<text x="349.0" y="524.9">3</text>
<text x="867.0" y="524.9">5</text>
<text x="349.0" y="553.4">4</text>
<text x="373.7" y="553.4">1</text>
<text x="324.4" y="567.6">3</text>
<text x="571.0" y="567.6">3</text>
<text x="595.7" y="567.6">3</text>
<text x="645.0" y="567.6">1</text>
<text x="669.7" y="567.6">4</text>
<text x="719.0" y="567.6">3</text>
<text x="768.4" y="567.6">2</text>
<text x="867.0" y="567.6">3</text>
<text x="164.0" y="581.8">2</text>
<text x="460.0" y="581.8">4</text>
<text x="509.4" y="581.8">3</text>
<text x="262.7" y="596.0">2</text>
<text x="361.4" y="596.0">3</text>
<text x="410.7" y="596.0">1</text>
<text x="756.0" y="596.0">4</text>
<text x="904.0" y="596.0">1</text>
<text x="238.0" y="610.3">1</text>
<text x="484.7" y="624.5">1</text>
</g>
<g class="n">
<text x="974" y="140.9">1</text>
<text x="974" y="155.2">1</text>
<text x="974" y="169.4">2</text>
<text x="974" y="183.6">2</text>
<text x="974" y="197.8">3</text>
<text x="974" y="212.0">4</text>
<text x="974" y="226.3">4</text>
<text x="974" y="240.5">4</text>
<text x="974" y="254.7">5</text>
<text x="974" y="268.9">4</text>
<text x="974" y="283.2">4</text>
<text x="974" y="297.4">3</text>
<text x="974" y="311.6">3</text>
<text x="974" y="325.8">3</text>
<text x="974" y="340.0">3</text>
<text x="974" y="354.3">5</text>
<text x="974" y="368.5">4</text>
<text x="974" y="382.7">5</text>
<text x="974" y="396.9">4</text>
<text x="974" y="411.2">7</text>
<text x="974" y="425.4">4</text>
<text x="974" y="439.6">3</text>
<text x="974" y="453.8">2</text>
<text x="974" y="468.0">2</text>
<text x="974" y="482.3">3</text>
<text x="974" y="496.5">3</text>
<text x="974" y="510.7">6</text>
<text x="974" y="524.9">5</text>
<text x="974" y="553.4">4</text>
<text x="974" y="567.6">3</text>
<text x="974" y="581.8">3</text>
<text x="974" y="596.0">3</text>
<text x="974" y="610.3">1</text>
<text x="974" y="624.5">1</text>
</g>
<text class="b" x="486.2" y="28" font-size="17" letter-spacing="0.7" text-anchor="middle">High Level (Cirriform)</text>
<text class="b" x="486.4" y="50.5" font-size="13" letter-spacing="1.0" text-anchor="middle">Average Cloud Amount</text>
<text class="b" x="485.5" y="74.3" font-size="13" letter-spacing="0.78" text-anchor="middle">Amplitude of Diurnal Cycle (%)</text>
<text x="45.5" y="100" font-size="13">December, January, February (1971 - 1996)</text>
<text x="925.5" y="100" font-size="13" text-anchor="end">Land Areas Only</text>
<text x="974" y="97.5" font-size="9" text-anchor="middle">ZONAL</text>
<text x="975" y="111" font-size="9" text-anchor="middle">AVERAGE</text>
<text class="b" x="29" y="120.0" font-size="11" text-anchor="end">90 ° N</text>
<text class="b" x="29" y="205.3" font-size="11" text-anchor="end">60 ° N</text>
<text class="b" x="29" y="290.7" font-size="11" text-anchor="end">30 ° N</text>
<text class="b" x="29" y="376.0" font-size="11" text-anchor="end">0 °</text>
<text class="b" x="29" y="461.3" font-size="11" text-anchor="end">30 ° S</text>
<text class="b" x="29" y="546.7" font-size="11" text-anchor="end">60 ° S</text>
<text class="b" x="29" y="632.0" font-size="11" text-anchor="end">90 ° S</text>
<text class="b" x="46.2" y="652.5" font-size="11" text-anchor="middle">180 ° W</text>
<text class="b" x="119.3" y="652.5" font-size="11" text-anchor="middle">150 ° W</text>
<text class="b" x="192.4" y="652.5" font-size="11" text-anchor="middle">120 ° W</text>
<text class="b" x="265.5" y="652.5" font-size="11" text-anchor="middle">90 ° W</text>
<text class="b" x="338.6" y="652.5" font-size="11" text-anchor="middle">60 ° W</text>
<text class="b" x="411.7" y="652.5" font-size="11" text-anchor="middle">30 ° W</text>
<text class="b" x="484.8" y="652.5" font-size="11" text-anchor="middle">0 °</text>
<text class="b" x="557.9" y="652.5" font-size="11" text-anchor="middle">30 ° E</text>
<text class="b" x="631.0" y="652.5" font-size="11" text-anchor="middle">60 ° E</text>
<text class="b" x="704.1" y="652.5" font-size="11" text-anchor="middle">90 ° E</text>
<text class="b" x="777.2" y="652.5" font-size="11" text-anchor="middle">120 ° E</text>
<text class="b" x="850.3" y="652.5" font-size="11" text-anchor="middle">150 ° E</text>
<text class="b" x="923.4" y="652.5" font-size="11" text-anchor="middle">180 ° E</text>
<text x="485" y="685.7" font-size="11" text-anchor="middle">GLOBAL AVERAGE (LAND) &#160;&#160;3.6 %</text>
<text x="485.5" y="720" font-size="13" letter-spacing="0.13" text-anchor="middle">(File name = lhrmda41mh.txt, MGRP = 10031, TYPE = 30, PCODE = 1, SN = 41)</text>
</svg></body></html>
